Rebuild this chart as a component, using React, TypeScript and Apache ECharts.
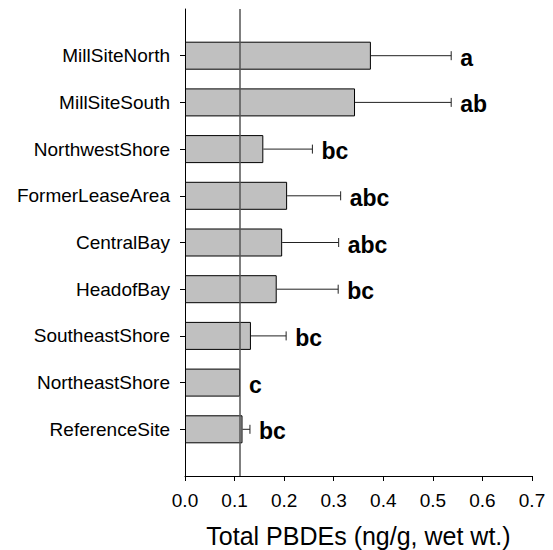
import React, { useEffect, useRef } from "react";
import * as echarts from "echarts";

const categories = [
  "MillSiteNorth",
  "MillSiteSouth",
  "NorthwestShore",
  "FormerLeaseArea",
  "CentralBay",
  "HeadofBay",
  "SoutheastShore",
  "NortheastShore",
  "ReferenceSite",
];
const means = [0.375, 0.343, 0.158, 0.206, 0.196, 0.185, 0.133, 0.111, 0.116];
const upperErr: (number | null)[] = [0.537, 0.537, 0.257, 0.314, 0.31, 0.309, 0.204, null, 0.131];
const letters = ["a", "ab", "bc", "abc", "abc", "bc", "bc", "c", "bc"];
const refValue = 0.109;
const xTicks = { min: 0, max: 0.7, interval: 0.1 };
const xTitle = "Total PBDEs (ng/g, wet wt.)";

const FONT = "'Liberation Sans', Arial, Helvetica, sans-serif";

export default function App() {
  const ref = useRef<HTMLDivElement>(null);
  useEffect(() => {
    if (!ref.current) return;
    document.body.style.margin = "0";
    const chart = echarts.init(ref.current, undefined, { renderer: "svg" });
    const yData = ["", ...categories, ""];
    const barData: any[] = ["-", ...means, "-"];
    const errData = categories.map((_, i) => [means[i], i + 1, upperErr[i] == null ? means[i] : upperErr[i]]);
    const showIdx = (idx: number) => idx > 0 && idx < yData.length - 1;
    chart.setOption({
      animation: false,
      textStyle: { fontFamily: FONT },
      grid: { left: 185, top: 9, width: 347, height: 467, containLabel: false, outerBoundsMode: "none" },
      xAxis: {
        type: "value",
        min: xTicks.min,
        max: xTicks.max,
        interval: xTicks.interval,
        axisLine: { show: true, lineStyle: { color: "#000", width: 1 } },
        axisTick: { show: true, length: 5, lineStyle: { color: "#000" } },
        splitLine: { show: false },
        axisLabel: {
          color: "#000",
          fontSize: 19,
          fontFamily: FONT,
          margin: 15,
          formatter: (v: number) => v.toFixed(1),
        },
        name: xTitle,
        nameLocation: "middle",
        nameGap: 47,
        nameMoveOverlap: false,
        nameTextStyle: { color: "#000", fontSize: 25, fontFamily: FONT },
      },
      yAxis: {
        type: "category",
        data: yData,
        inverse: true,
        boundaryGap: false,
        axisLine: { show: true, lineStyle: { color: "#000", width: 1 } },
        axisTick: { show: true, length: 5, interval: (idx: number) => showIdx(idx), lineStyle: { color: "#000" } },
        splitLine: { show: false },
        axisLabel: {
          color: "#000",
          fontSize: 19,
          fontFamily: FONT,
          margin: 15,
          interval: (idx: number) => showIdx(idx),
        },
      },
      series: [
        {
          type: "bar",
          data: barData,
          barWidth: 28,
          itemStyle: { color: "#c0c0c0", borderColor: "#000", borderWidth: 1 },
          markLine: {
            silent: true,
            symbol: ["none", "none"],
            label: { show: false },
            lineStyle: { color: "#555", width: 1.5, type: "solid" },
            data: [{ xAxis: refValue }],
          },
          z: 2,
        },
        {
          type: "custom",
          data: errData,
          encode: { x: [0, 2], y: 1 },
          z: 3,
          renderItem: (params: any, api: any) => {
            const i = params.dataIndex;
            const m = api.value(0);
            const yi = api.value(1);
            const up = api.value(2);
            const p0 = api.coord([m, yi]);
            const p1 = api.coord([up, yi]);
            const children: any[] = [];
            if (upperErr[i] != null) {
              children.push({
                type: "line",
                shape: { x1: p0[0], y1: p0[1], x2: p1[0], y2: p1[1] },
                style: { stroke: "#222", lineWidth: 1 },
              });
              children.push({
                type: "line",
                shape: { x1: p1[0], y1: p1[1] - 4.5, x2: p1[0], y2: p1[1] + 4.5 },
                style: { stroke: "#222", lineWidth: 1 },
              });
            }
            children.push({
              type: "text",
              x: p1[0] + 9,
              y: p1[1] + 2,
              style: {
                text: letters[i],
                fontSize: 23,
                fontWeight: "bold",
                fontFamily: FONT,
                fill: "#000",
                align: "left",
                verticalAlign: "middle",
              },
            });
            return { type: "group", children };
          },
        },
      ],
    });
    return () => chart.dispose();
  }, []);
  return <div ref={ref} style={{ width: 553, height: 550, background: "#fff" }} />;
}
